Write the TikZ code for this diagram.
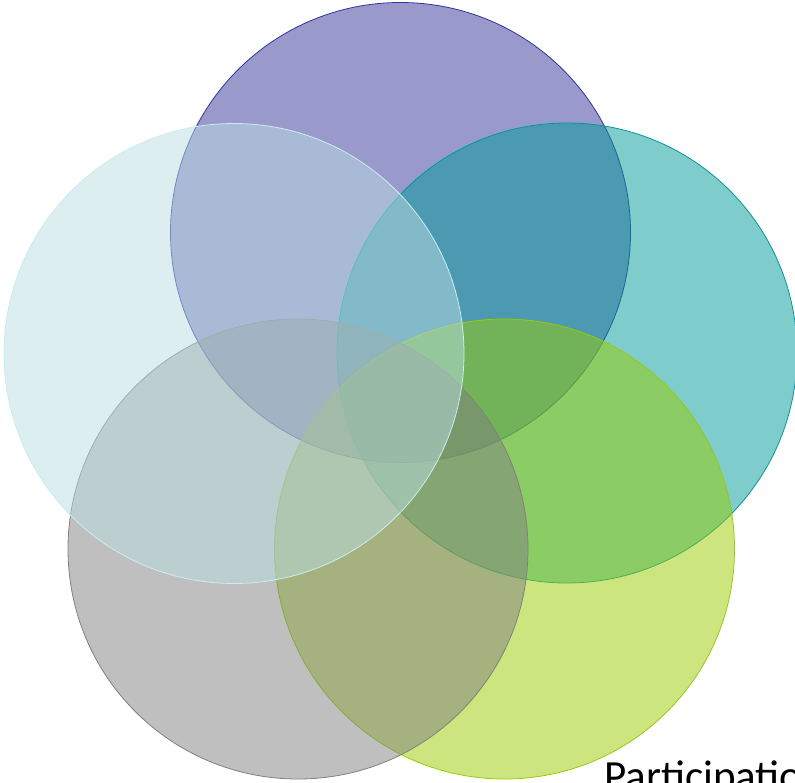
\documentclass[tikz,border=0pt]{standalone}
\usepackage{fontspec}
\setmainfont{Carlito}
\definecolor{cpurple}{RGB}{51,51,153}
\definecolor{cteal}{RGB}{0,153,153}
\definecolor{cyg}{RGB}{153,204,0}
\definecolor{cgray}{RGB}{128,128,128}
\definecolor{clblue}{RGB}{185,221,225}
\definecolor{clbluedraw}{RGB}{205,235,240}
\tikzset{
  venn/.style={circle, minimum size=460pt, inner sep=0pt, fill opacity=0.5, line width=0.8pt},
}
\begin{document}
\begin{tikzpicture}[x=1pt,y=-1pt]
\useasboundingbox (0,0) rectangle (795,782);
\clip (0,0) rectangle (795,782);
\node[venn, fill=cpurple, draw=cpurple] (purple) at (400.5,232.5) {};
\node[venn, fill=cteal, draw=cteal] (teal) at (567,353) {};
\node[venn, fill=cyg, draw=cyg] (yg) at (504.5,549) {};
\node[venn, fill=cgray, draw=cgray] (gray) at (298,549) {};
\node[venn, fill=clblue, draw=clbluedraw] (lblue) at (234,353.5) {};
\node[anchor=base west, inner sep=0pt, font=\fontsize{43pt}{50pt}\selectfont] (label) at (604,790) {Participation};
\end{tikzpicture}
\end{document}
